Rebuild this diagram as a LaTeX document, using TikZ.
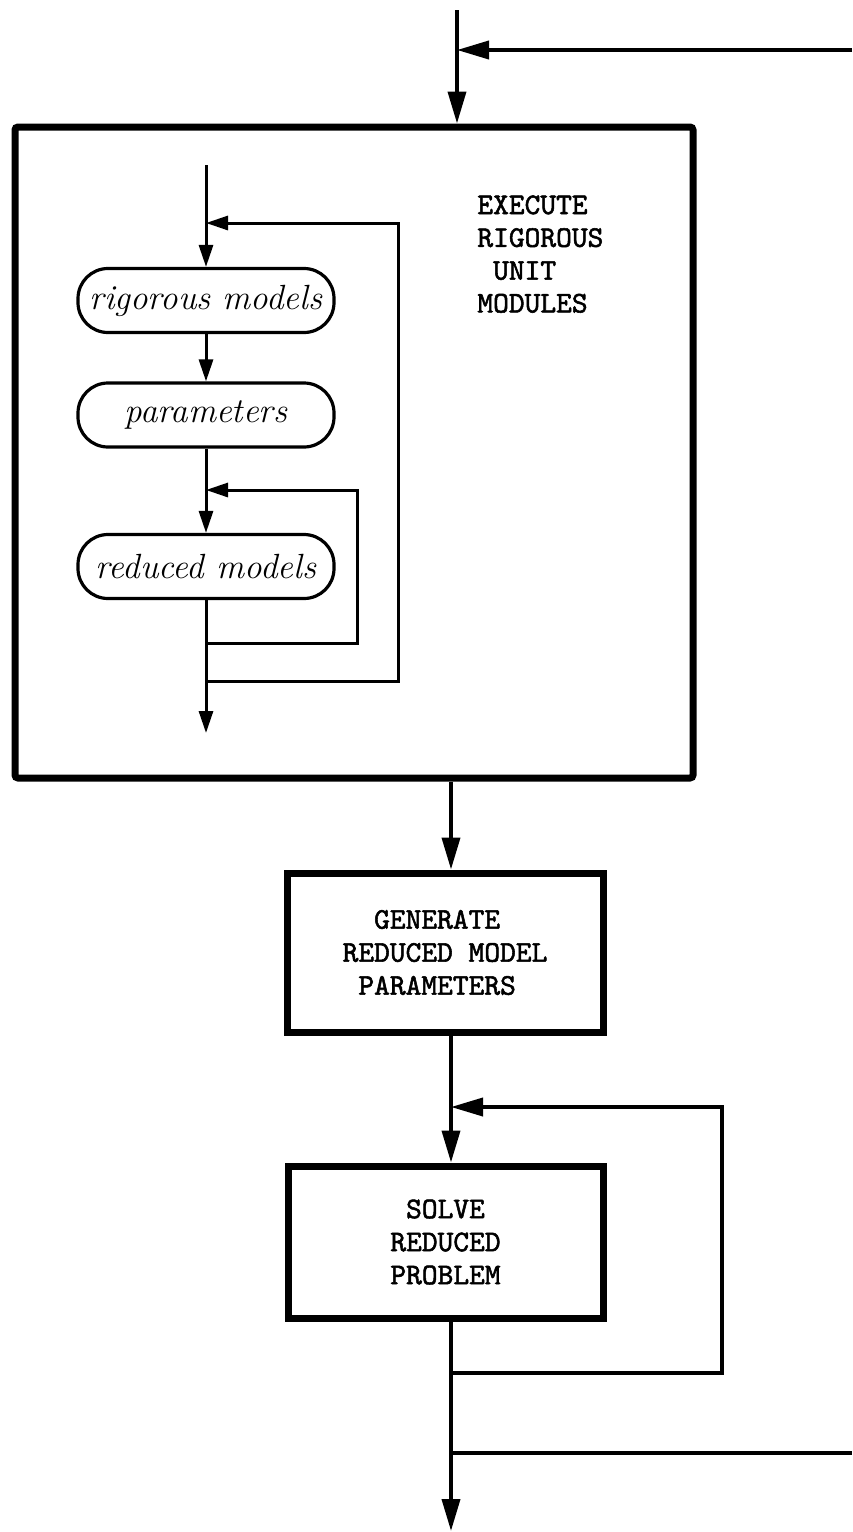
\documentclass[tikz,border=0pt]{standalone}
\usepackage{fontspec}
\usetikzlibrary{arrows.meta}
% heavier typewriter face for the block labels
\newfontfamily\typew{lmmono10-regular.otf}[FakeBold=1.8]
\begin{document}
\begin{tikzpicture}[x=0.5pt,y=-0.5pt,
  bigbox/.style={draw, line width=3.5pt, rounded corners=1.5pt, inner sep=0pt},
  tbox/.style={draw, line width=3.5pt, inner sep=0pt,
    font=\typew\fontsize{15}{16.5}\selectfont},
  tlabel/.style={inner sep=0pt, font=\typew\fontsize{15}{16.4}\selectfont, align=left},
  pill/.style={draw, line width=1.6pt, rounded corners=15pt,
    minimum width=128pt, minimum height=32pt, inner sep=0pt,
    font=\itshape\fontsize{17.5}{19}\selectfont},
  flow/.style={line width=1.9pt, -{Triangle[length=16pt,width=9pt]}},
  mline/.style={line width=1.9pt},
  iflow/.style={line width=1.5pt, -{Triangle[length=11pt,width=7pt]}},
]
\useasboundingbox (0,0) rectangle (852,1532);

% outer block with its inner iteration
\node[bigbox, minimum width=339pt, minimum height=325.5pt] (big) at (354,452.5) {};
\node[tlabel, anchor=north west] (exec) at (477,195)
  {EXECUTE\\RIGOROUS\\\phantom{M}UNIT\\MODULES};

\node[pill] (rig) at (206,300.5) {rigorous models};
\node[pill] (par) at (206,415) {parameters};
\node[pill] (red) at (206,566.5) {reduced models};

\coordinate (inTop) at (206,165);
\coordinate (j1) at (206,223);
\coordinate (j2) at (206,490);
\coordinate (b1) at (206,643);
\coordinate (b2) at (206,681);
\coordinate (inEnd) at (206,733);

\draw[iflow] (inTop) -- (rig.north);
\draw[iflow] (rig.south) -- (par.north);
\draw[iflow] (par.south) -- (red.north);
\draw[iflow] (red.south) -- (inEnd);
\draw[iflow] (b1) -- (357,643) -- (357,490) -- (j2);
\draw[iflow] (b2) -- (398,681) -- (398,223) -- (j1);

% main flow
\coordinate (top) at (457,10);
\coordinate (jt) at (457,50);
\coordinate (ret) at (852,50);
\draw[flow] (top) -- (top |- big.north);
\draw[flow] (ret) -- (jt);

\node[tbox, align=left, minimum width=158pt, minimum height=79.5pt] (gen) at (445,952.5)
  {\phantom{MM}GENERATE\\REDUCED MODEL\\\phantom{M}PARAMETERS};
\node[tbox, align=center, minimum width=157.5pt, minimum height=76pt] (sol) at (445.5,1242)
  {SOLVE\\REDUCED\\PROBLEM};

\coordinate (mx) at (451,0);
\coordinate (j3) at (451,1107);
\coordinate (j4) at (451,1373);
\coordinate (j5) at (451,1453);
\coordinate (out) at (451,1531);
\coordinate (ret2) at (852,1453);

\draw[flow] (big.south -| mx) -- (gen.north -| mx);
\draw[flow] (gen.south -| mx) -- (sol.north -| mx);
\draw[flow] (sol.south -| mx) -- (out);
\draw[flow] (j4) -- (722,1373) -- (722,1107) -- (j3);
\draw[mline] (j5) -- (ret2);
\end{tikzpicture}
\end{document}
